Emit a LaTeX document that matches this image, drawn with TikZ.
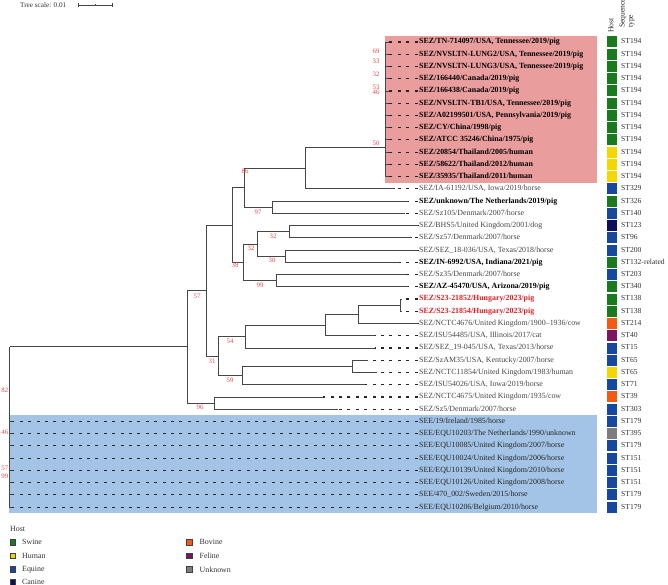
\documentclass[tikz,border=0pt]{standalone}
\usepackage{fontspec}
\setmainfont{Liberation Serif}
\definecolor{treegray}{RGB}{70,70,70}
\definecolor{labgray}{RGB}{70,70,70}
\definecolor{bootred}{RGB}{232,72,72}
\definecolor{hunred}{RGB}{225,30,35}
\definecolor{pinkbg}{RGB}{234,157,157}
\definecolor{bluebg}{RGB}{163,196,230}
\definecolor{swine}{RGB}{25,122,30}
\definecolor{human}{RGB}{245,215,0}
\definecolor{equine}{RGB}{22,72,160}
\definecolor{canine}{RGB}{12,16,92}
\definecolor{bovine}{RGB}{245,90,20}
\definecolor{feline}{RGB}{125,20,95}
\definecolor{unknown}{RGB}{125,125,125}
\newcommand\trow[6]{%
  \pgfmathsetmacro\yy{42+12.24*(#1-1)}%
  \coordinate (t#1) at (#2,\yy);
  \node[#3] (l#1) at (419,\yy) {#4};
  \node[hostsq,fill=#5] (h#1) at (612,\yy) {};
  \node[stlab] (s#1) at (621,\yy) {#6};
  \draw[dashl] ([xshift=-1.5pt]l#1.west) -- (t#1);
}
\begin{document}
\begin{tikzpicture}[x=1pt,y=-1pt,
  tree/.style={draw=treegray, line width=0.9pt},
  dashl/.style={draw=black!85, line width=1.1pt, dash pattern=on 3pt off 5.4pt},
  leaf/.style={anchor=west, inner sep=0pt, font=\fontsize{7.9}{9}\selectfont, text height=5.4pt, text depth=1.5pt, text=labgray},
  boldl/.style={leaf, font=\fontsize{7.9}{9}\selectfont\bfseries, text=black},
  redl/.style={boldl, text=hunred},
  seel/.style={leaf, text=black!85},
  boot/.style={font=\fontsize{6.8}{8}\selectfont, text=bootred, inner sep=0pt},
  hostsq/.style={draw=none, minimum width=10pt, minimum height=11pt, inner sep=0pt},
  stlab/.style={anchor=west, inner sep=0pt, font=\fontsize{7.6}{9}\selectfont, text=black!80, text height=5.4pt, text depth=1.5pt},
  legsq/.style={draw=black!75, line width=0.6pt, minimum size=5.5pt, inner sep=0pt},
  legtxt/.style={anchor=west, inner sep=0pt, font=\fontsize{7.9}{9}\selectfont, text=black!80}
]
\useasboundingbox (0,0) rectangle (668,585);
% backgrounds
\fill[pinkbg] (385,36) rectangle (597,183);
\fill[bluebg] (9,415) rectangle (597,513);

% leaves
\trow{1}{389}{boldl}{SEZ/TN-714097/USA, Tennessee/2019/pig}{swine}{ST194}
\trow{2}{389}{boldl}{SEZ/NVSLTN-LUNG2/USA, Tennessee/2019/pig}{swine}{ST194}
\trow{3}{389}{boldl}{SEZ/NVSLTN-LUNG3/USA, Tennessee/2019/pig}{swine}{ST194}
\trow{4}{389}{boldl}{SEZ/166440/Canada/2019/pig}{swine}{ST194}
\trow{5}{389}{boldl}{SEZ/166438/Canada/2019/pig}{swine}{ST194}
\trow{6}{389}{boldl}{SEZ/NVSLTN-TB1/USA, Tennessee/2019/pig}{swine}{ST194}
\trow{7}{389}{boldl}{SEZ/A02199501/USA, Pennsylvania/2019/pig}{swine}{ST194}
\trow{8}{389}{boldl}{SEZ/CY/China/1998/pig}{swine}{ST194}
\trow{9}{389}{boldl}{SEZ/ATCC 35246/China/1975/pig}{swine}{ST194}
\trow{10}{389}{boldl}{SEZ/20854/Thailand/2005/human}{human}{ST194}
\trow{11}{389}{boldl}{SEZ/58622/Thailand/2012/human}{human}{ST194}
\trow{12}{389}{boldl}{SEZ/35935/Thailand/2011/human}{human}{ST194}
\trow{13}{395}{leaf}{SEZ/IA-61192/USA, Iowa/2019/horse}{equine}{ST329}
\trow{14}{408}{boldl}{SEZ/unknown/The Netherlands/2019/pig}{swine}{ST326}
\trow{15}{405}{leaf}{SEZ/Sz105/Denmark/2007/horse}{equine}{ST140}
\trow{16}{418}{leaf}{SEZ/BHS5/United Kingdom/2001/dog}{canine}{ST123}
\trow{17}{412}{leaf}{SEZ/Sz57/Denmark/2007/horse}{equine}{ST96}
\trow{18}{418}{leaf}{SEZ/SEZ\_18-036/USA, Texas/2018/horse}{equine}{ST200}
\trow{19}{399}{boldl}{SEZ/IN-6992/USA, Indiana/2021/pig}{swine}{ST132-related}
\trow{20}{406}{leaf}{SEZ/Sz35/Denmark/2007/horse}{equine}{ST203}
\trow{21}{408}{boldl}{SEZ/AZ-45470/USA, Arizona/2019/pig}{swine}{ST340}
\trow{22}{402}{redl}{SEZ/S23-21852/Hungary/2023/pig}{swine}{ST138}
\trow{23}{402}{redl}{SEZ/S23-21854/Hungary/2023/pig}{swine}{ST138}
\trow{24}{418}{leaf}{SEZ/NCTC4676/United Kingdom/1900–1936/cow}{bovine}{ST214}
\trow{25}{375}{leaf}{SEZ/ISU54485/USA, Illinois/2017/cat}{feline}{ST40}
\trow{26}{375}{leaf}{SEZ/SEZ\_19-045/USA, Texas/2013/horse}{equine}{ST15}
\trow{27}{368}{leaf}{SEZ/SzAM35/USA, Kentucky/2007/horse}{equine}{ST65}
\trow{28}{377}{leaf}{SEZ/NCTC11854/United Kingdom/1983/human}{human}{ST65}
\trow{29}{365}{leaf}{SEZ/ISU54026/USA, Iowa/2019/horse}{equine}{ST71}
\trow{30}{323}{leaf}{SEZ/NCTC4675/United Kingdom/1935/cow}{bovine}{ST39}
\trow{31}{338}{leaf}{SEZ/Sz5/Denmark/2007/horse}{equine}{ST303}
\trow{32}{12}{seel}{SEE/19/Ireland/1985/horse}{equine}{ST179}
\trow{33}{12}{seel}{SEE/EQU10203/The Netherlands/1990/unknown}{unknown}{ST395}
\trow{34}{12}{seel}{SEE/EQU10085/United Kingdom/2007/horse}{equine}{ST179}
\trow{35}{12}{seel}{SEE/EQU10024/United Kingdom/2006/horse}{equine}{ST151}
\trow{36}{12}{seel}{SEE/EQU10139/United Kingdom/2010/horse}{equine}{ST151}
\trow{37}{12}{seel}{SEE/EQU10126/United Kingdom/2008/horse}{equine}{ST151}
\trow{38}{12}{seel}{SEE/470\_002/Sweden/2015/horse}{equine}{ST179}
\trow{39}{12}{seel}{SEE/EQU10206/Belgium/2010/horse}{equine}{ST179}

% internal nodes
\coordinate (nP) at (385,147);
\coordinate (nA) at (305,168);
\coordinate (n97) at (272,207.24);
\coordinate (n86) at (244,187.6);
\coordinate (n289) at (289,231.72);
\coordinate (n285) at (285,256.2);
\coordinate (n32) at (257,243.96);
\coordinate (n99) at (276,280.68);
\coordinate (n38) at (243,262.32);
\coordinate (nQ) at (232,225);
\coordinate (nH) at (400,305.16);
\coordinate (n358) at (358,314.34);
\coordinate (n325) at (325,325.05);
\coordinate (n54) at (245,336.5);
\coordinate (n352) at (352,366.36);
\coordinate (n59) at (242,375.5);
\coordinate (n31) at (218,356);
\coordinate (n57) at (206,290.5);
\coordinate (n96) at (214,403.08);
\coordinate (nS) at (187,346.8);
\coordinate (nR) at (9.5,346.8);

% edges
\foreach \i in {1,...,12} {\draw[tree] (nP) |- (t\i);}
\draw[tree] (nA) |- (nP); \draw[tree] (nA) |- (t13);
\draw[tree] (n97) |- (t14); \draw[tree] (n97) |- (t15);
\draw[tree] (n86) |- (nA); \draw[tree] (n86) |- (n97);
\draw[tree] (n289) |- (t16); \draw[tree] (n289) |- (t17);
\draw[tree] (n285) |- (t18); \draw[tree] (n285) |- (t19);
\draw[tree] (n32) |- (n289); \draw[tree] (n32) |- (n285);
\draw[tree] (n99) |- (t20); \draw[tree] (n99) |- (t21);
\draw[tree] (n38) |- (n32); \draw[tree] (n38) |- (n99);
\draw[tree] (nQ) |- (n86); \draw[tree] (nQ) |- (n38);
\draw[tree] (nH) |- (t22); \draw[tree] (nH) |- (t23);
\draw[tree] (n358) |- (nH); \draw[tree] (n358) |- (t24);
\draw[tree] (n325) |- (n358); \draw[tree] (n325) |- (t25);
\draw[tree] (n54) |- (n325); \draw[tree] (n54) |- (t26);
\draw[tree] (n352) |- (t27); \draw[tree] (n352) |- (t28);
\draw[tree] (n59) |- (n352); \draw[tree] (n59) |- (t29);
\draw[tree] (n31) |- (n54); \draw[tree] (n31) |- (n59);
\draw[tree] (n57) |- (nQ); \draw[tree] (n57) |- (n31);
\draw[tree] (n96) |- (t30); \draw[tree] (n96) |- (t31);
\draw[tree] (nS) |- (n57); \draw[tree] (nS) |- (n96);
\draw[tree] (nR) -- (nS);
\foreach \i in {32,...,39} {\draw[tree] (nR) |- (t\i);}

% bootstrap labels
\node[boot] (b69) at (376,51.5) {69};
\node[boot] (b33) at (376,61) {33};
\node[boot] (b32a) at (376,74) {32};
\node[boot] (b53) at (376,87) {53};
\node[boot] (b46a) at (376,92) {46};
\node[boot] (b50) at (376,143) {50};
\node[boot] (b97) at (258,212) {97};
\node[boot] (b86) at (245,171) {86};
\node[boot] (b32b) at (273,236) {32};
\node[boot] (b32c) at (251,248) {32};
\node[boot] (b30) at (272,260) {30};
\node[boot] (b99) at (260,285) {99};
\node[boot] (b38) at (235,265) {38};
\node[boot] (b57a) at (197,296) {57};
\node[boot] (b31) at (212,361) {31};
\node[boot] (b54) at (230,341) {54};
\node[boot] (b59) at (230,380) {59};
\node[boot] (b96) at (200,407) {96};
\node[boot,anchor=east] (b82) at (8.5,390) {82};
\node[boot,anchor=east] (b46b) at (8.5,432) {46};
\node[boot,anchor=east] (b57b) at (8.5,468) {57};
\node[boot,anchor=east] (b99b) at (8.5,476.5) {99};

% tree scale
\node[anchor=west, inner sep=0pt, font=\fontsize{7.2}{8}\selectfont, text=black!80] (ts) at (20,5) {Tree scale: 0.01};
\coordinate (sb1) at (78,5);
\coordinate (sb2) at (112,5);
\coordinate (sbm) at (95,5);
\draw[treegray, line width=0.8pt] (sb1) -- (sb2);
\draw[treegray, line width=0.8pt] ([yshift=-2pt]sb1) -- ([yshift=2pt]sb1);
\draw[treegray, line width=0.8pt] ([yshift=-2pt]sb2) -- ([yshift=2pt]sb2);
\draw[treegray, line width=0.6pt] ([yshift=-1pt]sbm) -- ([yshift=1pt]sbm);

% column headers
\node[rotate=90, anchor=west, inner sep=0pt, font=\fontsize{7.6}{9}\selectfont, text=black!85] (hhost) at (611,33) {Host};
\node[rotate=90, anchor=west, inner sep=0pt, align=left, font=\fontsize{7.6}{8.2}\selectfont, text=black!85] (hseq) at (627,28) {Sequence\\type};

% legend
\node[legtxt] (lhost) at (10,529) {Host};
\node[legsq, fill=swine] (q1) at (13,542.3) {};
\node[legtxt] (g1) at (22,542.3) {Swine};
\node[legsq, fill=human] (q2) at (13,555.7) {};
\node[legtxt] (g2) at (22,555.7) {Human};
\node[legsq, fill=equine] (q3) at (13,569.3) {};
\node[legtxt] (g3) at (22,569.3) {Equine};
\node[legsq, fill=canine] (q4) at (13,582.3) {};
\node[legtxt] (g4) at (22,582.3) {Canine};
\node[legsq, fill=bovine] (q5) at (189.5,542.3) {};
\node[legtxt] (g5) at (199.5,542.3) {Bovine};
\node[legsq, fill=feline] (q6) at (189.5,555.7) {};
\node[legtxt] (g6) at (199.5,555.7) {Feline};
\node[legsq, fill=unknown] (q7) at (189.5,569.3) {};
\node[legtxt] (g7) at (199.5,569.3) {Unknown};
\end{tikzpicture}
\end{document}
